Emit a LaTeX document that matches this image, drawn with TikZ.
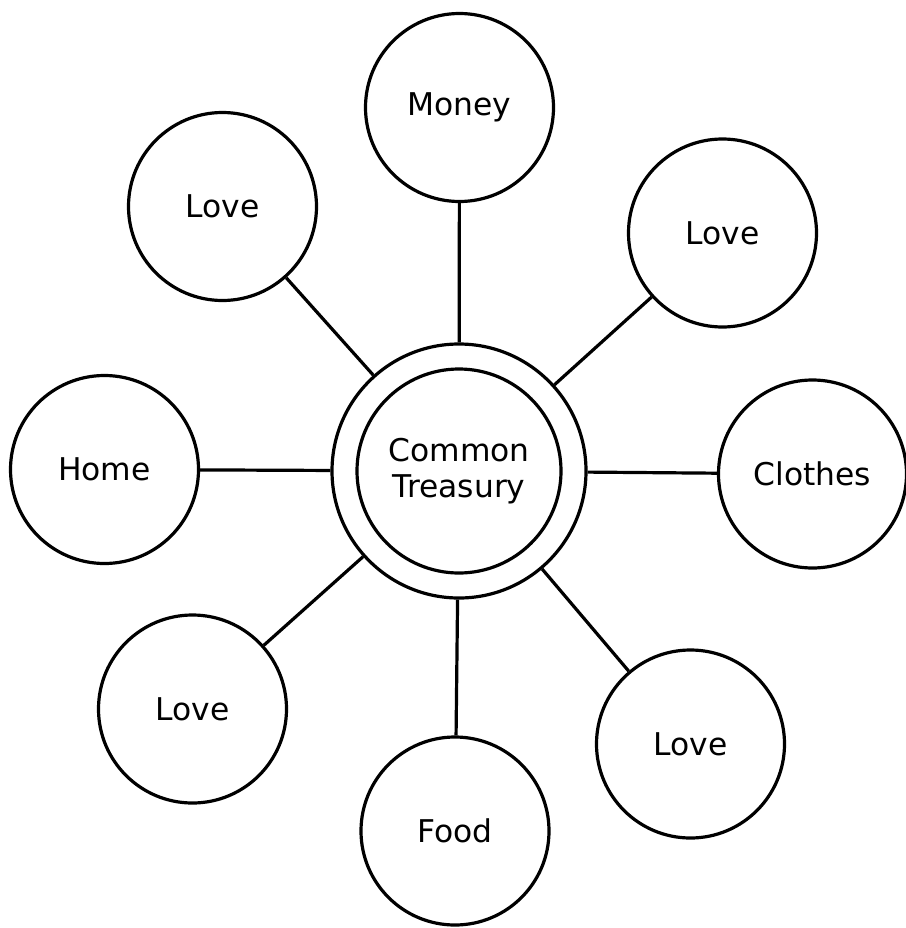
\documentclass[tikz,border=0pt]{standalone}
\usepackage{fontspec}
\setmainfont{DejaVu Sans}
\begin{document}
\begin{tikzpicture}[x=0.75pt,y=-0.75pt,
  sat/.style={circle,draw=black,line width=2.4pt,minimum size=188*0.75pt,inner sep=0pt,font=\fontsize{23.5}{28}\selectfont},
  hub/.style={circle,draw=black,line width=2.4pt,minimum size=254*0.75pt,inner sep=0pt},
  hubin/.style={circle,draw=black,line width=2.4pt,minimum size=204*0.75pt,inner sep=0pt,align=center,font=\fontsize{23.5}{27.5}\selectfont},
  link/.style={line width=2.4pt}]
\useasboundingbox (0,0) rectangle (906,928);
\node[hub] (ctr) at (459,471) {};
\node[hubin] (inner) at (459,471) {Common\\Treasury};
\node[sat] (money) at (459.5,107.5) {Money};
\node[sat] (lovetl) at (222.5,206.5) {Love};
\node[sat] (lovetr) at (722.5,233) {Love};
\node[sat] (home) at (104.5,469.5) {Home};
\node[sat] (clothes) at (812.5,474) {Clothes};
\node[sat] (lovebl) at (192.5,709) {Love};
\node[sat] (lovebr) at (690.5,744) {Love};
\node[sat] (food) at (455,831) {Food};
\foreach \n in {money,lovetl,lovetr,home,clothes,lovebl,lovebr,food}
  \draw[link] (ctr) -- (\n);
\end{tikzpicture}
\end{document}
